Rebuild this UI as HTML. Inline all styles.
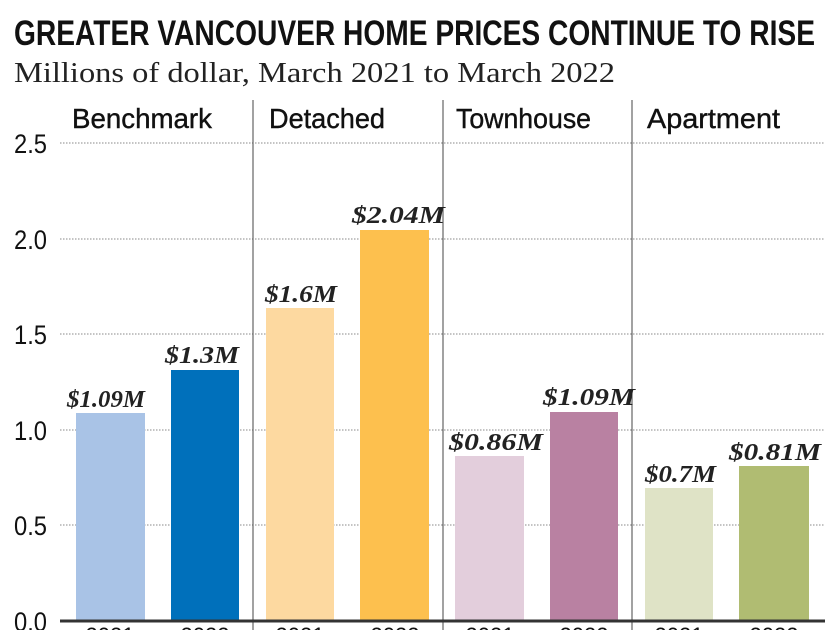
<!DOCTYPE html>
<html><head><style>body{margin:0;background:#fff}svg{display:block}</style></head><body>
<svg width="825" height="630" xmlns="http://www.w3.org/2000/svg">
<rect width="825" height="630" fill="#fff"/>
<text x="14" y="45" font-family="Liberation Sans Narrow, Liberation Sans, sans-serif" font-weight="bold" font-size="35" textLength="801" lengthAdjust="spacingAndGlyphs" fill="#111">GREATER VANCOUVER HOME PRICES CONTINUE TO RISE</text>
<text x="14" y="82" font-family="Liberation Serif, serif" font-size="28" textLength="601" lengthAdjust="spacingAndGlyphs" fill="#222">Millions of dollar, March 2021 to March 2022</text>
<g font-family="Liberation Sans Narrow, Liberation Sans, sans-serif" font-size="28" fill="#111" stroke="#111" stroke-width="0.4">
<text x="72" y="128" textLength="140" lengthAdjust="spacingAndGlyphs">Benchmark</text>
<text x="269" y="128" textLength="116" lengthAdjust="spacingAndGlyphs">Detached</text>
<text x="456" y="128" textLength="135" lengthAdjust="spacingAndGlyphs">Townhouse</text>
<text x="647" y="128" textLength="133" lengthAdjust="spacingAndGlyphs">Apartment</text>
</g>
<g stroke="#888" stroke-width="1" stroke-dasharray="1.5,1.5">
<line x1="60" y1="143" x2="825" y2="143"/><line x1="60" y1="239" x2="825" y2="239"/>
<line x1="60" y1="334" x2="825" y2="334"/><line x1="60" y1="430" x2="825" y2="430"/>
<line x1="60" y1="525" x2="825" y2="525"/>
</g>
<g font-family="Liberation Sans Narrow, Liberation Sans, sans-serif" font-size="27" fill="#111">
<text x="14" y="153" textLength="33" lengthAdjust="spacingAndGlyphs">2.5</text>
<text x="14" y="249" textLength="33" lengthAdjust="spacingAndGlyphs">2.0</text>
<text x="14" y="344" textLength="33" lengthAdjust="spacingAndGlyphs">1.5</text>
<text x="14" y="440" textLength="33" lengthAdjust="spacingAndGlyphs">1.0</text>
<text x="14" y="535" textLength="33" lengthAdjust="spacingAndGlyphs">0.5</text>
<text x="14" y="631" textLength="33" lengthAdjust="spacingAndGlyphs">0.0</text>
</g>
<g stroke="#444" stroke-width="1">
<line x1="253" y1="100" x2="253" y2="630"/><line x1="443" y1="100" x2="443" y2="630"/><line x1="632" y1="100" x2="632" y2="630"/>
</g>
<rect x="76" y="413" width="69" height="208" fill="#a9c3e6"/>
<rect x="171" y="370" width="68" height="251" fill="#0070bb"/>
<rect x="266" y="308" width="68" height="313" fill="#fdd9a0"/>
<rect x="360" y="230" width="69" height="391" fill="#fdc04e"/>
<rect x="455" y="456" width="69" height="165" fill="#e3cedc"/>
<rect x="550" y="412" width="68" height="209" fill="#b981a2"/>
<rect x="645" y="488" width="68" height="133" fill="#dfe3c6"/>
<rect x="739" y="466" width="70" height="155" fill="#b0bc72"/>
<line x1="60" y1="621" x2="825" y2="621" stroke="#333" stroke-width="3"/>
<g font-family="Liberation Serif, serif" font-style="italic" font-weight="bold" font-size="24" fill="#222" lengthAdjust="spacingAndGlyphs">
<text x="67" y="407" textLength="78" lengthAdjust="spacingAndGlyphs">$1.09M</text>
<text x="165" y="363" textLength="74" lengthAdjust="spacingAndGlyphs">$1.3M</text>
<text x="265" y="302" textLength="72" lengthAdjust="spacingAndGlyphs">$1.6M</text>
<text x="352" y="223" textLength="93" lengthAdjust="spacingAndGlyphs">$2.04M</text>
<text x="449" y="450" textLength="94" lengthAdjust="spacingAndGlyphs">$0.86M</text>
<text x="543" y="405" textLength="92" lengthAdjust="spacingAndGlyphs">$1.09M</text>
<text x="645" y="482" textLength="71" lengthAdjust="spacingAndGlyphs">$0.7M</text>
<text x="729" y="460" textLength="92" lengthAdjust="spacingAndGlyphs">$0.81M</text>
</g>
<g font-family="Liberation Sans Narrow, Liberation Sans, sans-serif" font-size="22" fill="#111" text-anchor="middle">
<text x="110" y="643">2021</text><text x="205" y="643">2022</text><text x="300" y="643">2021</text><text x="395" y="643">2022</text>
<text x="490" y="643">2021</text><text x="584" y="643">2022</text><text x="679" y="643">2021</text><text x="774" y="643">2022</text>
</g>
</svg>
</body></html>
